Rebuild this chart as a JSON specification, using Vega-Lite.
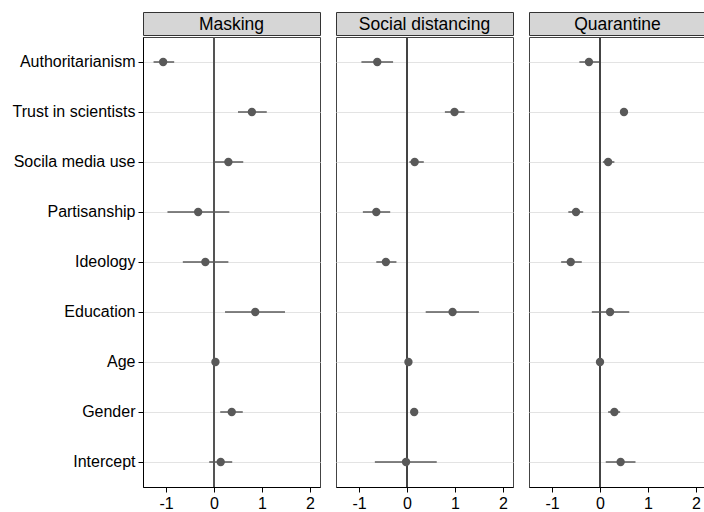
{
  "$schema": "https://vega.github.io/schema/vega-lite/v6.json",
  "padding": {"top": 11, "left": 11, "right": 0, "bottom": 0},
  "config": {
    "font": "Liberation Sans",
    "view": {"stroke": "#444", "strokeWidth": 1},
    "axis": {"labelFont": "Liberation Sans", "labelFontSize": 16, "labelColor": "black"}
  },
  "datasets": {
    "coef": [
      {"model": "Masking", "term": "Authoritarianism", "est": -1.06, "lo": -1.26, "hi": -0.83},
      {"model": "Masking", "term": "Trust in scientists", "est": 0.79, "lo": 0.50, "hi": 1.10},
      {"model": "Masking", "term": "Socila media use", "est": 0.30, "lo": 0.00, "hi": 0.61},
      {"model": "Masking", "term": "Partisanship", "est": -0.33, "lo": -0.97, "hi": 0.32},
      {"model": "Masking", "term": "Ideology", "est": -0.18, "lo": -0.65, "hi": 0.30},
      {"model": "Masking", "term": "Education", "est": 0.86, "lo": 0.23, "hi": 1.48},
      {"model": "Masking", "term": "Age", "est": 0.03, "lo": 0.01, "hi": 0.05},
      {"model": "Masking", "term": "Gender", "est": 0.37, "lo": 0.13, "hi": 0.60},
      {"model": "Masking", "term": "Intercept", "est": 0.14, "lo": -0.10, "hi": 0.38},
      {"model": "Social distancing", "term": "Authoritarianism", "est": -0.62, "lo": -0.95, "hi": -0.29},
      {"model": "Social distancing", "term": "Trust in scientists", "est": 0.99, "lo": 0.79, "hi": 1.20},
      {"model": "Social distancing", "term": "Socila media use", "est": 0.16, "lo": 0.05, "hi": 0.35},
      {"model": "Social distancing", "term": "Partisanship", "est": -0.64, "lo": -0.92, "hi": -0.35},
      {"model": "Social distancing", "term": "Ideology", "est": -0.44, "lo": -0.64, "hi": -0.22},
      {"model": "Social distancing", "term": "Education", "est": 0.95, "lo": 0.39, "hi": 1.50},
      {"model": "Social distancing", "term": "Age", "est": 0.03, "lo": 0.01, "hi": 0.05},
      {"model": "Social distancing", "term": "Gender", "est": 0.15, "lo": 0.10, "hi": 0.20},
      {"model": "Social distancing", "term": "Intercept", "est": -0.02, "lo": -0.67, "hi": 0.62},
      {"model": "Quarantine", "term": "Authoritarianism", "est": -0.23, "lo": -0.43, "hi": -0.02},
      {"model": "Quarantine", "term": "Trust in scientists", "est": 0.50, "lo": 0.43, "hi": 0.57},
      {"model": "Quarantine", "term": "Socila media use", "est": 0.17, "lo": 0.06, "hi": 0.30},
      {"model": "Quarantine", "term": "Partisanship", "est": -0.50, "lo": -0.66, "hi": -0.35},
      {"model": "Quarantine", "term": "Ideology", "est": -0.61, "lo": -0.81, "hi": -0.38},
      {"model": "Quarantine", "term": "Education", "est": 0.21, "lo": -0.17, "hi": 0.61},
      {"model": "Quarantine", "term": "Age", "est": 0.00, "lo": -0.02, "hi": 0.02},
      {"model": "Quarantine", "term": "Gender", "est": 0.30, "lo": 0.17, "hi": 0.42},
      {"model": "Quarantine", "term": "Intercept", "est": 0.43, "lo": 0.12, "hi": 0.74}
    ]
  },
  "spacing": 14,
  "hconcat": [
    {
      "spacing": 0,
      "vconcat": [
        {
          "width": 177, "height": 23,
          "view": {"fill": "#d6d6d6", "stroke": "#333"},
          "data": {"values": [{"model": "Masking"}]},
          "mark": {"type": "text", "fontSize": 17.5, "color": "black", "font": "Liberation Sans", "dy": 1},
          "encoding": {"text": {"field": "model"}}
        },
        {
          "width": 177, "height": 450,
          "data": {"name": "coef"},
          "transform": [{"filter": "datum.model === 'Masking'"}],
          "encoding": {
            "y": {"field": "term", "type": "nominal", "sort": null, "title": null,
              "axis": {"grid": true, "gridColor": "#e3e3e3", "domainColor": "black", "tickColor": "black", "tickSize": 5, "labelPadding": 3}}
          },
          "layer": [
            {"mark": {"type": "rule", "color": "#555"}, "encoding": {"x": {"datum": 0, "type": "quantitative", "scale": {"domain": [-1.48, 2.21], "nice": false, "zero": false}, "title": null, "axis": {"values": [-1, 0, 1, 2], "labelExpr": "'' + datum.value", "grid": false, "domainColor": "black", "tickColor": "black", "tickSize": 5, "labelPadding": 3, "title": null}}, "y": null}},
            {"mark": {"type": "rule", "color": "#5a5a5a", "strokeWidth": 1.5}, "encoding": {"x": {"field": "lo", "type": "quantitative", "title": null}, "x2": {"field": "hi", "title": null}}},
            {"mark": {"type": "circle", "color": "#595959", "opacity": 1, "size": 70}, "encoding": {"x": {"field": "est", "type": "quantitative", "title": null}}}
          ]
        }
      ]
    },
    {
      "spacing": 0,
      "vconcat": [
        {
          "width": 177, "height": 23,
          "view": {"fill": "#d6d6d6", "stroke": "#333"},
          "data": {"values": [{"model": "Social distancing"}]},
          "mark": {"type": "text", "fontSize": 17.5, "color": "black", "font": "Liberation Sans", "dy": 1},
          "encoding": {"text": {"field": "model"}}
        },
        {
          "width": 177, "height": 450,
          "data": {"name": "coef"},
          "transform": [{"filter": "datum.model === 'Social distancing'"}],
          "encoding": {
            "y": {"field": "term", "type": "nominal", "sort": null, "title": null,
              "axis": {"grid": true, "gridColor": "#e3e3e3", "labels": false, "ticks": false, "domain": false}}
          },
          "layer": [
            {"mark": {"type": "rule", "color": "#444"}, "encoding": {"x": {"datum": 0, "type": "quantitative", "scale": {"domain": [-1.48, 2.21], "nice": false, "zero": false}, "title": null, "axis": {"values": [-1, 0, 1, 2], "labelExpr": "'' + datum.value", "grid": false, "domainColor": "black", "tickColor": "black", "tickSize": 5, "labelPadding": 3, "title": null}}, "y": null}},
            {"mark": {"type": "rule", "color": "#5a5a5a", "strokeWidth": 1.5}, "encoding": {"x": {"field": "lo", "type": "quantitative", "title": null}, "x2": {"field": "hi", "title": null}}},
            {"mark": {"type": "circle", "color": "#595959", "opacity": 1, "size": 70}, "encoding": {"x": {"field": "est", "type": "quantitative", "title": null}}}
          ]
        }
      ]
    },
    {
      "spacing": 0,
      "vconcat": [
        {
          "width": 177, "height": 23,
          "view": {"fill": "#d6d6d6", "stroke": "#333"},
          "data": {"values": [{"model": "Quarantine"}]},
          "mark": {"type": "text", "fontSize": 17.5, "color": "black", "font": "Liberation Sans", "dy": 1},
          "encoding": {"text": {"field": "model"}}
        },
        {
          "width": 177, "height": 450,
          "data": {"name": "coef"},
          "transform": [{"filter": "datum.model === 'Quarantine'"}],
          "encoding": {
            "y": {"field": "term", "type": "nominal", "sort": null, "title": null,
              "axis": {"grid": true, "gridColor": "#e3e3e3", "labels": false, "ticks": false, "domain": false}}
          },
          "layer": [
            {"mark": {"type": "rule", "color": "#444"}, "encoding": {"x": {"datum": 0, "type": "quantitative", "scale": {"domain": [-1.48, 2.21], "nice": false, "zero": false}, "title": null, "axis": {"values": [-1, 0, 1, 2], "labelExpr": "'' + datum.value", "grid": false, "domainColor": "black", "tickColor": "black", "tickSize": 5, "labelPadding": 3, "title": null}}, "y": null}},
            {"mark": {"type": "rule", "color": "#5a5a5a", "strokeWidth": 1.5}, "encoding": {"x": {"field": "lo", "type": "quantitative", "title": null}, "x2": {"field": "hi", "title": null}}},
            {"mark": {"type": "circle", "color": "#595959", "opacity": 1, "size": 70}, "encoding": {"x": {"field": "est", "type": "quantitative", "title": null}}}
          ]
        }
      ]
    }
  ]
}
